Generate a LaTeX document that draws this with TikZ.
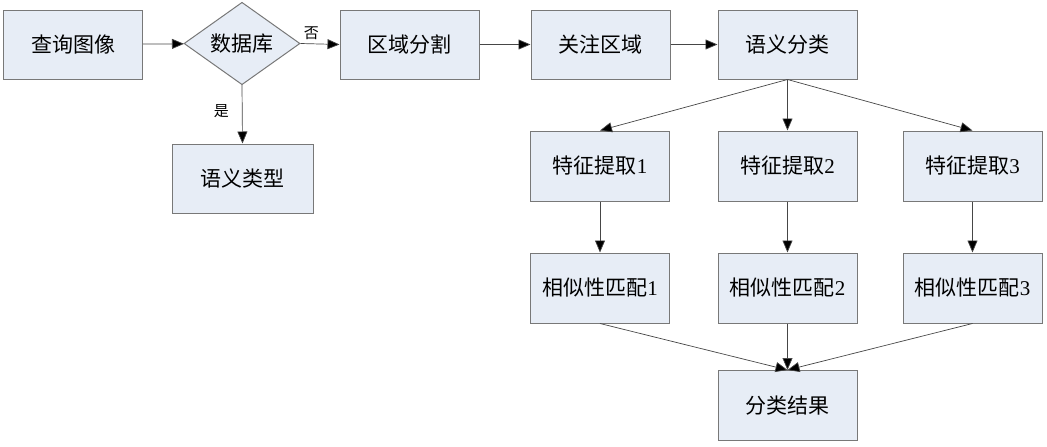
\documentclass[tikz,border=0pt]{standalone}
\usepackage{fontspec}
\setmainfont{Liberation Serif}
\newfontfamily\cjk{Noto Sans CJK SC}
\usetikzlibrary{arrows.meta,shapes.geometric}
\definecolor{boxfill}{RGB}{231,237,246}
\definecolor{boxline}{RGB}{120,120,120}
\definecolor{arrline}{RGB}{70,70,70}
\tikzset{
  box/.style={draw=boxline, fill=boxfill, line width=1pt, minimum width=139pt, minimum height=69pt, inner sep=0pt, font=\fontsize{21}{24}\selectfont},
  dbox/.style={diamond, draw=boxline, fill=boxfill, line width=1pt, minimum width=116pt, minimum height=79pt, inner sep=0pt, font=\fontsize{21}{24}\selectfont},
  conn/.style={draw=arrline, line width=0.7pt, -{Triangle[length=12pt,width=10pt,fill=black]}},
  lbl/.style={font=\fontsize{15}{17}\selectfont\cjk, inner sep=1pt}
}
\begin{document}
\begin{tikzpicture}[x=1pt,y=-1pt]
\useasboundingbox (0,0) rectangle (1047,447);
\node[box] (q) at (73,44.5) {\cjk 查询图像};
\node[dbox] (db) at (242,43.5) {\cjk 数据库};
\node[box, minimum width=141pt] (yt) at (242.5,178.5) {\cjk 语义类型};
\node[box] (rs) at (409.5,44.5) {\cjk 区域分割};
\node[box] (gz) at (600.5,44.5) {\cjk 关注区域};
\node[box] (yf) at (787.5,44.5) {\cjk 语义分类};
\node[box, minimum height=70pt] (f1) at (600,166) {{\cjk 特征提取}1};
\node[box, minimum height=70pt] (f2) at (787.5,166) {{\cjk 特征提取}2};
\node[box, minimum height=70pt] (f3) at (972.5,166) {{\cjk 特征提取}3};
\node[box, minimum height=70pt] (s1) at (600,288) {{\cjk 相似性匹配}1};
\node[box, minimum height=70pt] (s2) at (787.5,288) {{\cjk 相似性匹配}2};
\node[box, minimum height=70pt] (s3) at (972.5,288) {{\cjk 相似性匹配}3};
\node[box, minimum height=70pt] (r) at (787.5,405.5) {\cjk 分类结果};
\draw[conn] (q) -- (db);
\draw[conn] (db.east) -- node[lbl, pos=0.28, above=3pt] (no) {否} (rs.west);
\draw[conn] (db.south) -- node[lbl, pos=0.45, left=12pt] (yes) {是} (yt.north);
\draw[conn] (rs) -- (gz);
\draw[conn] (gz) -- (yf);
\draw[conn] (yf.south) -- (f1.north);
\draw[conn] (yf.south) -- (f2.north);
\draw[conn] (yf.south) -- (f3.north);
\draw[conn] (f1) -- (s1);
\draw[conn] (f2) -- (s2);
\draw[conn] (f3) -- (s3);
\draw[conn] (s1.south) -- (r.north);
\draw[conn] (s2.south) -- (r.north);
\draw[conn] (s3.south) -- (r.north);
\end{tikzpicture}
\end{document}
